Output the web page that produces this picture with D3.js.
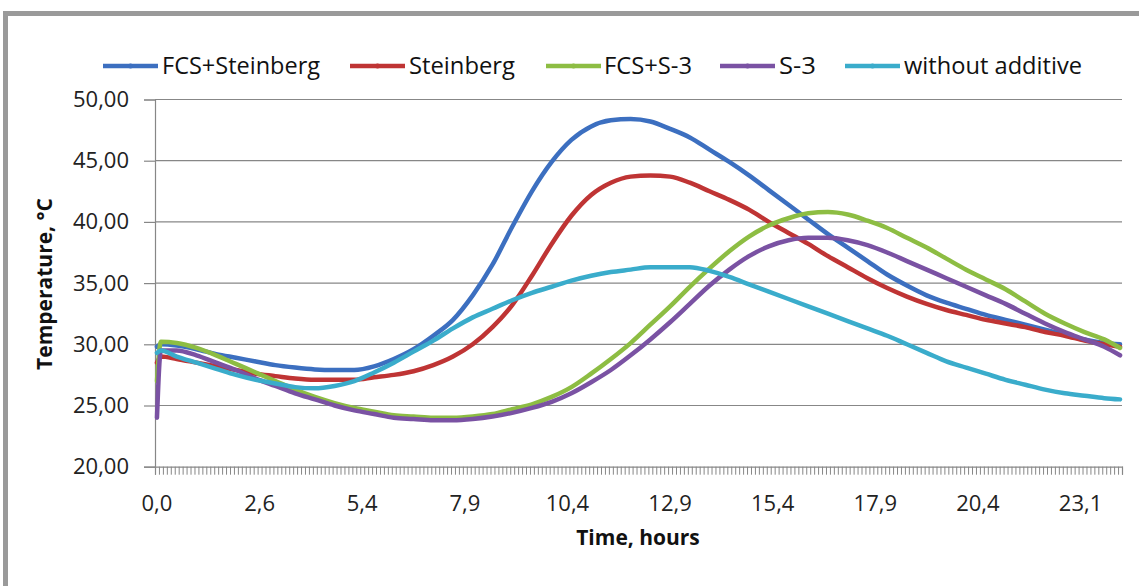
<!DOCTYPE html>
<html>
<head>
<meta charset="utf-8">
<script src="https://cdn.jsdelivr.net/npm/d3@7"></script>
<style>
  html, body { margin: 0; padding: 0; background: #fff; }
  svg { display: block; }
</style>
</head>
<body>
<svg id="chart" width="1139" height="586"></svg>
<script>
// ---------- DATA ----------
const seriesNames = ["FCS+Steinberg", "Steinberg", "FCS+S-3", "S-3", "without additive"];
const seriesColors = ["#3c6fc0", "#bf3434", "#8dbd43", "#7a52a3", "#3aaccb"];
const categoryCount = 245;
// category index of each sampled reading
const sampleIdx = [0, 1, 5, 10, 15, 20, 25, 30, 35, 40, 45, 50, 55, 60, 65, 70, 75, 80, 85, 90,
  95, 100, 105, 110, 115, 120, 125, 130, 135, 140, 145, 150, 155, 160, 165, 170, 175, 180, 185, 190,
  195, 200, 205, 210, 215, 220, 225, 230, 235, 240, 244];
const fcsSteinberg = [29.8, 30.0, 29.9, 29.6, 29.2, 28.9, 28.6, 28.3, 28.1, 27.95, 27.9, 27.9, 28.2, 28.8, 29.6, 30.7,
  32.0, 34.0, 36.5, 39.6, 42.5, 44.9, 46.7, 47.8, 48.3, 48.4, 48.2, 47.6, 46.9, 45.9, 44.9, 43.8, 42.6, 41.4,
  40.2, 39.0, 37.9, 36.8, 35.7, 34.8, 34.0, 33.4, 32.9, 32.4, 32.0, 31.6, 31.2, 30.8, 30.4, 30.1, 30.0];
const steinberg = [28.5, 29.0, 28.8, 28.5, 28.2, 27.9, 27.6, 27.4, 27.2, 27.1, 27.1, 27.1, 27.3, 27.5, 27.8, 28.3,
  29.0, 30.0, 31.4, 33.2, 35.6, 38.2, 40.5, 42.2, 43.2, 43.7, 43.8, 43.7, 43.2, 42.5, 41.8, 41.0, 40.0, 39.1,
  38.2, 37.2, 36.3, 35.4, 34.6, 33.9, 33.3, 32.8, 32.4, 32.0, 31.7, 31.4, 31.0, 30.7, 30.3, 30.0, 29.8];
const fcsS3 = [27.0, 30.2, 30.1, 29.7, 29.1, 28.4, 27.7, 27.0, 26.3, 25.7, 25.2, 24.8, 24.5, 24.2, 24.1, 24.0,
  24.0, 24.1, 24.3, 24.7, 25.1, 25.7, 26.5, 27.6, 28.8, 30.1, 31.6, 33.1, 34.7, 36.2, 37.6, 38.8, 39.7, 40.3,
  40.7, 40.8, 40.6, 40.1, 39.5, 38.7, 37.9, 37.0, 36.1, 35.3, 34.5, 33.5, 32.5, 31.7, 31.0, 30.4, 29.7];
const s3 = [24.0, 29.5, 29.5, 29.1, 28.5, 27.9, 27.2, 26.6, 26.0, 25.5, 25.0, 24.6, 24.3, 24.0, 23.9, 23.8,
  23.8, 23.9, 24.1, 24.4, 24.8, 25.3, 26.0, 26.9, 27.9, 29.1, 30.4, 31.8, 33.3, 34.8, 36.1, 37.2, 38.0, 38.5,
  38.7, 38.7, 38.5, 38.1, 37.5, 36.8, 36.1, 35.4, 34.7, 34.0, 33.3, 32.5, 31.7, 31.0, 30.4, 29.8, 29.1];
const withoutAdditive = [29.3, 29.5, 29.0, 28.5, 28.0, 27.5, 27.1, 26.8, 26.5, 26.4, 26.6, 27.0, 27.7, 28.5, 29.4, 30.3,
  31.3, 32.2, 32.9, 33.6, 34.2, 34.7, 35.2, 35.6, 35.9, 36.1, 36.3, 36.3, 36.3, 36.0, 35.5, 34.9, 34.3, 33.7,
  33.1, 32.5, 31.9, 31.3, 30.7, 30.0, 29.3, 28.6, 28.1, 27.6, 27.1, 26.7, 26.3, 26.0, 25.8, 25.6, 25.5];
const xTickIdx = [0, 26, 52, 78, 104, 130, 156, 182, 208, 234];
const xTickLabels = ["0,0", "2,6", "5,4", "7,9", "10,4", "12,9", "15,4", "17,9", "20,4", "23,1"];
const yTicks = [20, 25, 30, 35, 40, 45, 50];
const xTitle = "Time, hours";
const yTitle = "Temperature, °C";

const allSeries = [fcsSteinberg, steinberg, fcsS3, s3, withoutAdditive];

// ---------- LAYOUT ----------
const svg = d3.select("#chart");
const plotL = 155, plotR = 1122, plotT = 99.5, plotB = 466.7;
const x = d3.scaleLinear().domain([0, categoryCount]).range([plotL, plotR]);
const y = d3.scaleLinear().domain([20, 50]).range([plotB, plotT]);
const grid = "#878787";
const font = "'Open Sans', 'DejaVu Sans', sans-serif";

// frame (partly cropped in reference)
svg.append("rect").attr("x", 5.5).attr("y", 13.5).attr("width", 1300).attr("height", 800)
  .attr("fill", "none").attr("stroke", "#9a9a9a").attr("stroke-width", 5);

// horizontal gridlines
svg.append("g").selectAll("line").data(yTicks.filter(d => d > 20)).join("line")
  .attr("x1", plotL).attr("x2", plotR)
  .attr("y1", d => y(d)).attr("y2", d => y(d))
  .attr("stroke", grid).attr("stroke-width", 1.2);

// y axis
const yAxis = d3.axisLeft(y).tickValues(yTicks).tickSize(11).tickPadding(15)
  .tickFormat(d => d3.format(".2f")(d).replace(".", ","));
const gy = svg.append("g").attr("transform", `translate(${plotL},0)`).call(yAxis);
gy.select(".domain").attr("stroke", grid).attr("stroke-width", 1.2);
gy.selectAll(".tick line").attr("stroke", grid).attr("stroke-width", 1.2);
gy.selectAll(".tick text").attr("font-family", font).attr("font-size", 22).attr("fill", "#222");

// x axis: ticks at every category boundary
const xBoundaries = d3.range(0, categoryCount + 1);
const xAxis = d3.axisBottom(x).tickValues(xBoundaries).tickSize(8).tickFormat("");
const gx = svg.append("g").attr("transform", `translate(0,${plotB})`).call(xAxis);
gx.select(".domain").attr("stroke", grid).attr("stroke-width", 1.2);
gx.selectAll(".tick line").attr("stroke", grid).attr("stroke-width", 1);

// x labels (category centres)
svg.append("g").selectAll("text").data(xTickIdx).join("text")
  .attr("x", (d) => x(d + 0.5)).attr("y", 511)
  .attr("text-anchor", "middle").attr("font-family", font).attr("font-size", 22).attr("fill", "#222")
  .text((d, i) => xTickLabels[i]);

// axis titles
svg.append("text").attr("x", 638).attr("y", 545).attr("text-anchor", "middle")
  .attr("font-family", font).attr("font-weight", "bold").attr("font-size", 21).attr("fill", "#111")
  .text(xTitle);
svg.append("text").attr("transform", "translate(52,284) rotate(-90)").attr("text-anchor", "middle")
  .attr("font-family", font).attr("font-weight", "bold").attr("font-size", 21).attr("fill", "#111")
  .text(yTitle);

// series lines
const line = d3.line()
  .x((d, i) => x(sampleIdx[i] + 0.5))
  .y(d => y(d))
  .curve(d3.curveMonotoneX);
svg.append("g").selectAll("path").data(allSeries).join("path")
  .attr("d", d => line(d))
  .attr("fill", "none")
  .attr("stroke", (d, i) => seriesColors[i])
  .attr("stroke-width", 4.5)
  .attr("stroke-linejoin", "round")
  .attr("stroke-linecap", "round");

// legend
const legendItems = [
  { x1: 103, x2: 158, tx: 162, w: 158 },
  { x1: 350, x2: 405, tx: 409, w: 106 },
  { x1: 546, x2: 601, tx: 604, w: 88 },
  { x1: 720, x2: 775, tx: 779, w: 37 },
  { x1: 845, x2: 900, tx: 904, w: 178 }
];
const ly = 66;
const lg = svg.append("g");
legendItems.forEach((it, i) => {
  lg.append("line").attr("x1", it.x1).attr("x2", it.x2).attr("y1", ly).attr("y2", ly)
    .attr("stroke", seriesColors[i]).attr("stroke-width", 4.5);
  lg.append("circle").attr("cx", (it.x1 + it.x2) / 2).attr("cy", ly).attr("r", 2.5)
    .attr("fill", seriesColors[i]);
  lg.append("text").attr("x", it.tx).attr("y", ly + 8)
    .attr("font-family", font).attr("font-size", 23).attr("fill", "#111")
    .attr("textLength", it.w).attr("lengthAdjust", "spacingAndGlyphs")
    .text(seriesNames[i]);
});
</script>
</body>
</html>
